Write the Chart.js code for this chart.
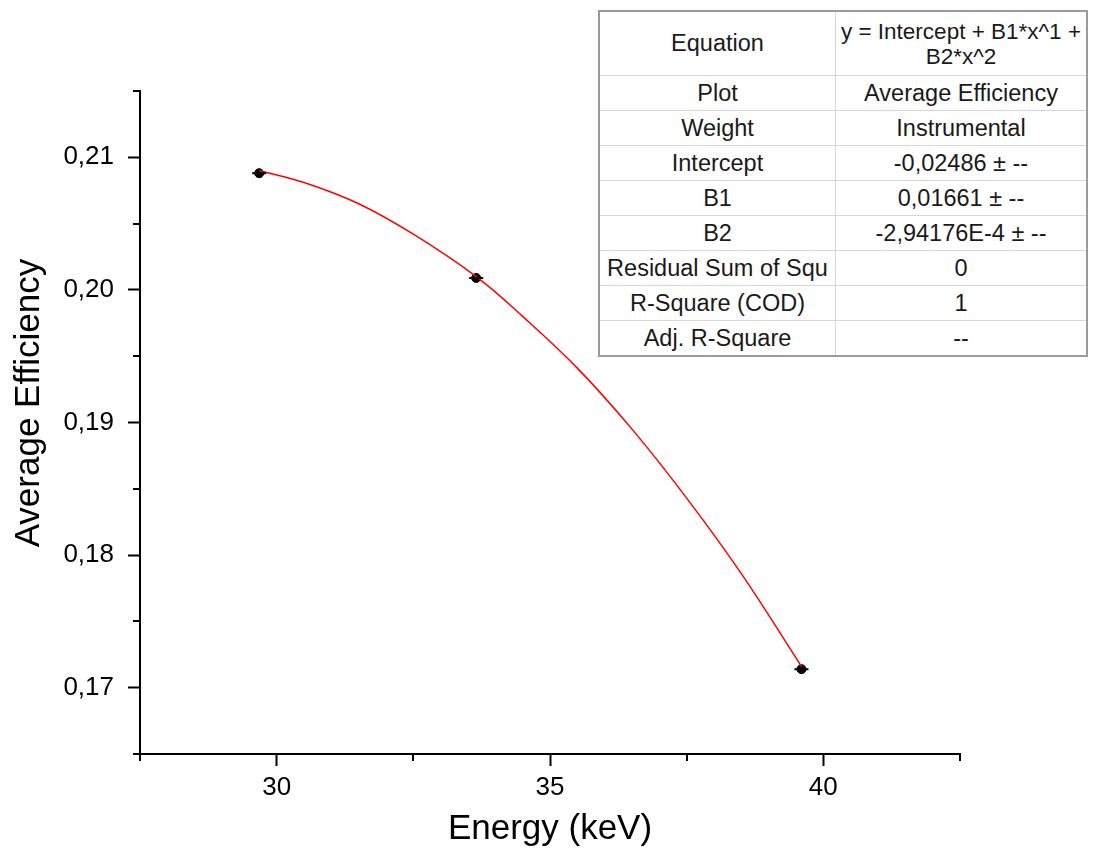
<!DOCTYPE html>
<html>
<head>
<meta charset="utf-8">
<script src="https://cdn.jsdelivr.net/npm/chart.js@4"></script>
<style>
  body { margin: 0; background: #fff; font-family: "Liberation Sans", Arial, sans-serif; }
  #wrap { position: relative; width: 1094px; height: 858px; }
  #fitTable {
    position: absolute; left: 598px; top: 10px; width: 490px;
    border-collapse: collapse; border: 2px solid #9a9a9a;
    font-size: 23.5px; color: #1a1a1a; background: #fff;
  }
  #fitTable td {
    border: 1px solid #d6d6d6; text-align: center; padding: 0;
    height: 34px; white-space: nowrap; overflow: hidden;
  }
  #fitTable td:first-child { width: 235px; max-width: 235px; }
  #fitTable tr:first-child td { height: 63px; line-height: 25px; }
  #fitTable tr:first-child td + td { font-size: 22.5px; }
</style>
</head>
<body>
<div id="wrap">
  <canvas id="myChart"></canvas>
  <table id="fitTable"></table>
</div>
<script>
const energy = [29.68, 33.65, 39.6];
const efficiency = [0.2088, 0.2009, 0.1714];

// fitted curve
const fitX = [29.68, 30.5, 31.5, 32.5, 33.65, 34.5, 35.5, 36.5, 37.5, 38.5, 39.6];
const fitY = [0.2090, 0.2081, 0.2065, 0.2042, 0.2010, 0.1980, 0.1941, 0.1895, 0.1843, 0.1786, 0.1716];

const xTicks = [30, 35, 40];
const xMinor = [27.5, 32.5, 37.5, 42.5];
const yTicks = [0.17, 0.18, 0.19, 0.20, 0.21];
const yMinor = [0.165, 0.175, 0.185, 0.195, 0.205, 0.215];

const tableLabels = ["Equation", "Plot", "Weight", "Intercept", "B1", "B2", "Residual Sum of Squ", "R-Square (COD)", "Adj. R-Square"];
const tableValues = ["y = Intercept + B1*x^1 +<br>B2*x^2", "Average Efficiency", "Instrumental", "-0,02486 \u00b1 --", "0,01661 \u00b1 --", "-2,94176E-4 \u00b1 --", "0", "1", "--"];

document.addEventListener('DOMContentLoaded', () => {
    const table = document.getElementById('fitTable');
    tableLabels.forEach((label, i) => {
        const row = document.createElement('tr');
        const a = document.createElement('td');
        a.textContent = label;
        const b = document.createElement('td');
        b.innerHTML = tableValues[i];
        row.appendChild(a);
        row.appendChild(b);
        table.appendChild(row);
    });

    // minor ticks + little horizontal error caps on the points
    const extras = {
        id: 'extras',
        afterDraw(chart) {
            const ctx = chart.ctx;
            const xs = chart.scales.x, ys = chart.scales.y;
            ctx.save();
            ctx.strokeStyle = '#000';
            ctx.lineWidth = 2;
            ctx.beginPath();
            xMinor.forEach(v => {
                const p = Math.round(xs.getPixelForValue(v));
                ctx.moveTo(p, xs.top);
                ctx.lineTo(p, xs.top + 7);
            });
            yMinor.forEach(v => {
                const p = Math.round(ys.getPixelForValue(v));
                ctx.moveTo(ys.right, p);
                ctx.lineTo(ys.right - 7, p);
            });
            chart.getDatasetMeta(1).data.forEach(pt => {
                ctx.moveTo(pt.x - 7, pt.y);
                ctx.lineTo(pt.x + 7, pt.y);
            });
            ctx.stroke();
            ctx.restore();
        }
    };

    const font = "'Liberation Sans', Arial, sans-serif";

    new Chart("myChart", {
        type: "scatter",
        data: {
            datasets: [{
                label: "Fit",
                data: fitX.map((x, i) => ({ x: x, y: fitY[i] })),
                showLine: true,
                borderColor: "#ff0000",
                borderWidth: 1.5,
                pointRadius: 0,
                tension: 0.4,
            }, {
                label: "Average Efficiency",
                data: energy.map((x, i) => ({ x: x, y: efficiency[i] })),
                backgroundColor: "#000",
                borderColor: "#000",
                pointRadius: 4.5,
            }],
        },
        options: {
            responsive: true,
            maintainAspectRatio: false,
            animation: false,
            layout: { padding: { top: 91, right: 134, left: 0, bottom: 0 } },
            plugins: {
                legend: { display: false },
                tooltip: { enabled: false },
            },
            scales: {
                x: {
                    type: "linear",
                    min: 27.5,
                    max: 42.5,
                    afterFit: s => { s.height = 104; },
                    afterBuildTicks: s => { s.ticks = xTicks.map(v => ({ value: v })); },
                    grid: { drawOnChartArea: false, tickLength: 12, tickWidth: 2, tickColor: "#000" },
                    border: { display: true, color: "#000", width: 2 },
                    ticks: { color: "#000", padding: 6, font: { family: font, size: 26 } },
                    title: { display: true, text: "Energy (keV)", color: "#000", padding: { top: 0, bottom: 8 }, font: { family: font, size: 35 } },
                },
                y: {
                    type: "linear",
                    min: 0.165,
                    max: 0.215,
                    afterFit: s => { s.width = 140; },
                    afterBuildTicks: s => { s.ticks = yTicks.map(v => ({ value: v })); },
                    grid: { drawOnChartArea: false, tickLength: 12, tickWidth: 2, tickColor: "#000" },
                    border: { display: true, color: "#000", width: 2 },
                    ticks: { color: "#000", padding: 14, font: { family: font, size: 26 }, callback: v => v.toFixed(2).replace('.', ',') },
                    title: { display: true, text: "    Average Efficiency", color: "#000", padding: { top: 8, bottom: 0 }, font: { family: font, size: 35 } },
                },
            },
        },
        plugins: [extras],
    });
});
</script>
</body>
</html>
